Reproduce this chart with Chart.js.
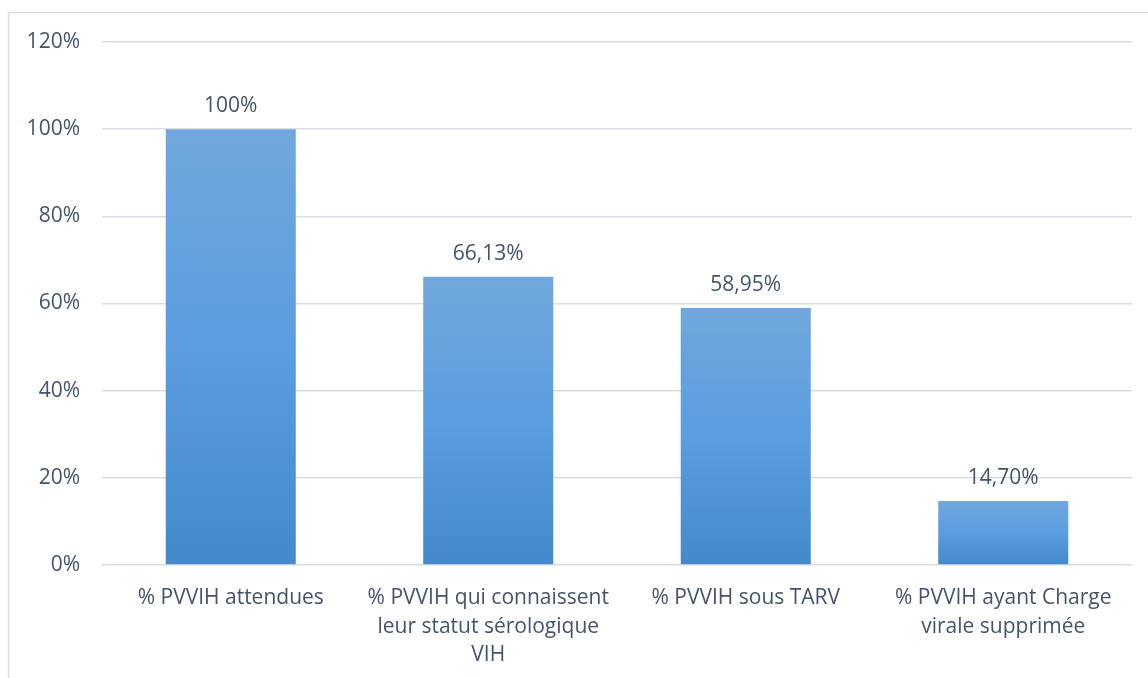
<!DOCTYPE html>
<html>
<head>
<meta charset="utf-8">
<script src="https://cdn.jsdelivr.net/npm/chart.js@4"></script>
<style>
  html, body { margin: 0; padding: 0; background: #fff; overflow: hidden; }
  #wrap { width: 1148px; height: 678px; }
</style>
</head>
<body>
<div id="wrap"><canvas id="cascade"></canvas></div>
<script>
// Cascade des PVVIH
const categories = [
  ['% PVVIH attendues'],
  ['% PVVIH qui connaissent', 'leur statut sérologique', 'VIH'],
  ['% PVVIH sous TARV'],
  ['% PVVIH ayant Charge', 'virale supprimée']
];
const values = [100, 66.13, 58.95, 14.70];
const yTicks = [0, 20, 40, 60, 80, 100, 120];

const textColor = '#44546a';
const gridColor = '#d9dde3';
const fontFamily = '"Open Sans", sans-serif';

// format like 66,13%
function pct(v) {
  return Number.isInteger(v) ? v + '%' : v.toFixed(2).replace('.', ',') + '%';
}

// light-to-dark vertical gradient, one per bar
const barGradient = {
  id: 'barGradient',
  beforeDatasetsDraw(chart) {
    const c = chart.ctx;
    chart.getDatasetMeta(0).data.forEach(bar => {
      const g = c.createLinearGradient(0, bar.y, 0, bar.base);
      g.addColorStop(0, '#71a7dc');
      g.addColorStop(0.5, '#5a9de0');
      g.addColorStop(1, '#4389cc');
      // options are shared between bars, so give each its own copy
      bar.options = Object.assign({}, bar.options, { backgroundColor: g });
    });
  }
};

// outer frame line
const framePlugin = {
  id: 'frame',
  beforeDraw(chart) {
    const c = chart.ctx;
    c.save();
    c.strokeStyle = '#d9dde3';
    c.lineWidth = 1.5;
    c.strokeRect(8.5, 12.5, 1400, 900);
    c.restore();
  }
};

// value labels above the bars
const valueLabels = {
  id: 'valueLabels',
  afterDatasetsDraw(chart) {
    const c = chart.ctx;
    const meta = chart.getDatasetMeta(0);
    c.save();
    c.font = '21px ' + fontFamily;
    c.fillStyle = textColor;
    c.textAlign = 'center';
    c.textBaseline = 'alphabetic';
    meta.data.forEach((bar, i) => {
      c.fillText(pct(values[i]), bar.x, bar.y - 17);
    });
    c.restore();
  }
};

new Chart(document.getElementById('cascade'), {
  type: 'bar',
  data: {
    labels: categories,
    datasets: [{
      data: values,
      backgroundColor: '#5a9de0',
      categoryPercentage: 1,
      barPercentage: 0.505
    }]
  },
  options: {
    responsive: true,
    maintainAspectRatio: false,
    animation: false,
    layout: { padding: { top: 42, right: 16, left: 0, bottom: 0 } },
    plugins: { legend: { display: false }, tooltip: { enabled: false } },
    scales: {
      x: {
        grid: { display: false },
        border: { display: false },
        ticks: {
          color: textColor,
          font: { family: fontFamily, size: 21, lineHeight: 1.36 },
          padding: 11,
          maxRotation: 0,
          autoSkip: false
        },
        afterFit(axis) { axis.height = 113; }
      },
      y: {
        min: 0,
        max: 120,
        afterBuildTicks(axis) { axis.ticks = yTicks.map(v => ({ value: v })); },
        grid: { color: gridColor, lineWidth: 1.5, drawTicks: false },
        border: { display: false },
        ticks: {
          color: textColor,
          font: { family: fontFamily, size: 21 },
          padding: 22,
          callback: v => v + '%'
        },
        afterFit(axis) { axis.width = 102; }
      }
    }
  },
  plugins: [framePlugin, barGradient, valueLabels]
});
</script>
</body>
</html>
